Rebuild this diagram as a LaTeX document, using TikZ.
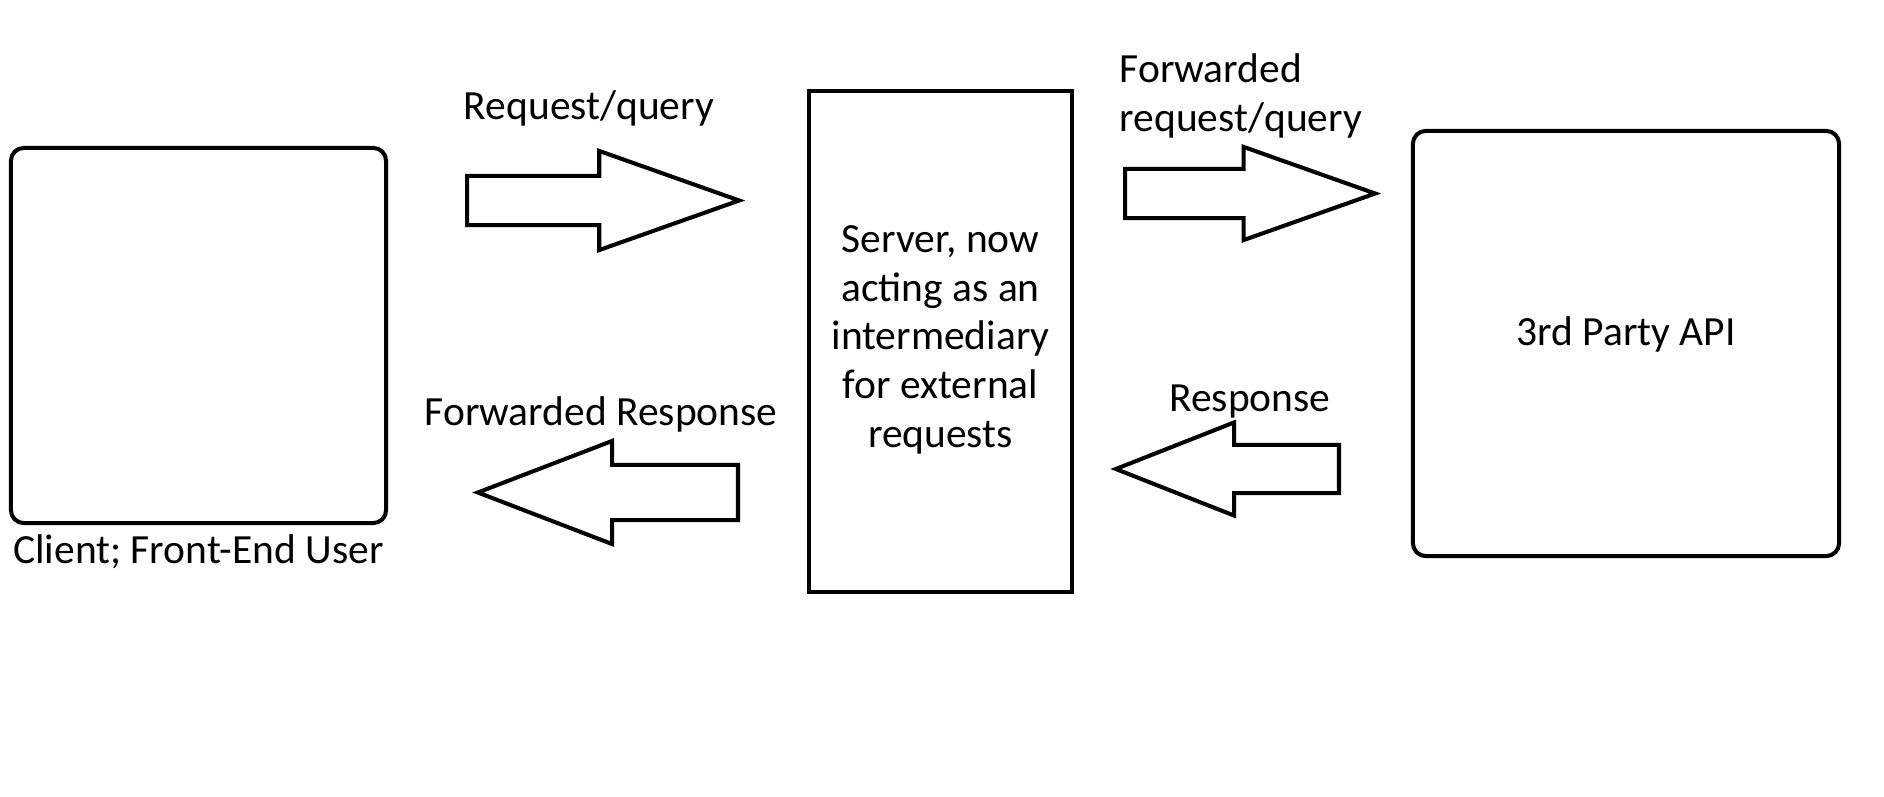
\documentclass[tikz,border=0pt]{standalone}
\usepackage{fontspec}
\setmainfont{Carlito}
\usetikzlibrary{positioning,shapes.arrows}

\tikzset{
  box/.style={draw=black,line width=1.15pt,inner sep=0pt},
  blockarrow/.style={single arrow,draw=black,line width=1.15pt,inner sep=0pt,anchor=tail},
  lbl/.style={inner sep=0pt,font=\fontsize{11.8pt}{13.9pt}\selectfont}
}

\begin{document}
\begin{tikzpicture}[x=0.01cm,y=-0.01cm]
		\useasboundingbox (0,0) rectangle (1884,797);
		
		\node[box,rounded corners=0.13cm,minimum width=3.75cm,minimum height=3.75cm] (client) at (198.5,335.5) {};
		\node[lbl,below=0.09cm of client] (clientlbl) {Client; Front-End User};
		
		\node[box,minimum width=2.63cm,minimum height=5.01cm,lbl,align=center,text depth=0.1cm] (server) at (940.5,341.5) {Server, now\\acting as an\\intermediary\\for external\\requests};
		
		\node[box,rounded corners=0.13cm,minimum width=4.26cm,minimum height=4.25cm,lbl,text depth=0.24cm] (api) at (1626,343.5) {3rd Party API};
		
		% requests going right
		\node[blockarrow,minimum height=2.72cm,inner ysep=0.225cm,single arrow head extend=0.25cm,single arrow tip angle=39] (req) at (465,200.5) {};
		\node[lbl] (reqlbl) at (589,108) {Request/query};
		
		\node[blockarrow,minimum height=2.50cm,inner ysep=0.225cm,single arrow head extend=0.22cm,single arrow tip angle=39] (fwdreq) at (1123,193.5) {};
		\node[lbl,align=left,anchor=west] (fwdreqlbl) at (1119,95.5) {Forwarded\\request/query};
		
		% responses going left
		\node[blockarrow,shape border rotate=180,minimum height=2.23cm,inner ysep=0.22cm,single arrow head extend=0.225cm,single arrow tip angle=43] (resp) at (1341,469) {};
		\node[lbl] (resplbl) at (1250,402) {Response};
		
		\node[blockarrow,shape border rotate=180,minimum height=2.60cm,inner ysep=0.255cm,single arrow head extend=0.24cm,single arrow tip angle=42] (fwdresp) at (740,492.5) {};
		\node[lbl] (fwdresplbl) at (601,414) {Forwarded Response};
	\end{tikzpicture}
\end{document}
